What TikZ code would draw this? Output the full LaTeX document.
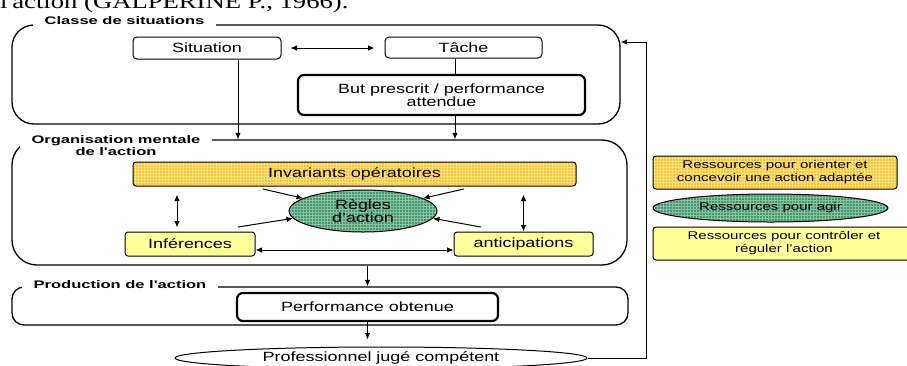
\documentclass[tikz,border=0pt]{standalone}
\usepackage{fontspec}
\setmainfont{Liberation Sans}[FakeStretch=1.34]
\newfontfamily\titlefont{Liberation Sans}[FakeStretch=1.5]
\newfontfamily\bookfont{Liberation Serif}[FakeStretch=1.3]
\usepackage{xcolor}
\usetikzlibrary{arrows.meta,patterns,shapes.geometric}
\definecolor{goldfill}{RGB}{248,196,50}
\definecolor{goldgrid}{RGB}{255,226,130}
\definecolor{greenfill}{RGB}{70,150,110}
\definecolor{greengrid}{RGB}{135,195,160}
\definecolor{palefill}{RGB}{255,255,153}

\begin{document}
\begin{tikzpicture}%
  [x=1pt,y=-1pt,font=\fontsize{13.4}{13}\selectfont,
   link/.style={-{Latex[length=6.5pt,width=5.5pt]},line width=1pt},
   dlink/.style={{Latex[length=6.5pt,width=5.5pt]}-{Latex[length=6.5pt,width=5.5pt]},line width=1pt}]
  \tikzstyle{frame node}=[rectangle,draw,line width=1.3pt,inner sep=0]
  \tikzstyle{head node}=[fill=white,inner xsep=12pt,inner ysep=2pt,align=center,
    font=\titlefont\bfseries\fontsize{11}{12}\selectfont]
  \tikzstyle{plain box}=[rectangle,draw,rounded corners=4pt,line width=1pt,inner sep=0,align=center]
  \tikzstyle{thick box}=[plain box,line width=2.2pt,rounded corners=6pt]
  \tikzstyle{gold box}=[plain box,rounded corners=3pt,preaction={fill=goldfill},
    pattern=grid,pattern color=goldgrid]
  \tikzstyle{pale box}=[plain box,rounded corners=3pt,fill=palefill]
  \tikzstyle{green ell}=[ellipse,draw,line width=1pt,inner sep=0,align=center,
    preaction={fill=greenfill},pattern=grid,pattern color=greengrid]
  \tikzstyle{legend}=[font=\fontsize{11.2}{13}\selectfont]
  \clip (0,0) rectangle (907,365);
  % text cut off above the figure
  \node (source) [anchor=base west,inner sep=0,font=\bookfont\fontsize{20.5}{22}\selectfont]
    at (0,8) {l'action (GALPERINE P., 1966).};
  % the three frames
  \node (classe) [frame node,rounded corners=22pt,minimum width=608pt,minimum height=99pt] at (316,74.5) {};
  \node (orga) [frame node,rounded corners=25pt,minimum width=615pt,minimum height=125pt] at (319.5,202.5) {};
  \node (prod) [frame node,rounded corners=12pt,minimum width=616pt,minimum height=38pt] at (320,306) {};
  \node (classehead) [head node] at (124.5,20.5) {Classe de situations};
  \node (orgahead) [head node] at (116,146) {Organisation mentale\\de l'action};
  \node (prodhead) [head node] at (120,284.5) {Production de l'action};
  % boxes
  \node (situation) [plain box,minimum width=148pt,minimum height=22pt] at (207,48) {Situation};
  \node (tache) [plain box,minimum width=157pt,minimum height=21pt] at (463.5,47.5) {Tâche};
  \node (but) [thick box,minimum width=287pt,minimum height=40pt] at (441.5,95) {But prescrit / performance\\attendue};
  \node (inv) [gold box,minimum width=443pt,minimum height=24pt] at (354.5,174) {Invariants opératoires};
  \node (regles) [green ell,minimum width=148pt,minimum height=42pt] at (363,211) {Règles\\d'action};
  \node (inf) [pale box,minimum width=130pt,minimum height=24pt] at (190,244) {Inférences};
  \node (antic) [pale box,minimum width=139pt,minimum height=24pt] at (523.5,244) {anticipations};
  \node (perf) [thick box,minimum width=261pt,minimum height=28pt] at (367.5,307) {Performance obtenue};
  \node (prof) [ellipse,draw,line width=1pt,inner sep=0,minimum width=412pt,minimum height=22pt]
    at (381,358) {Professionnel jugé compétent};
  % legend
  \node (leg1) [gold box,legend,minimum width=244pt,minimum height=33pt] at (775,172.5)
    {Ressources pour orienter et\\concevoir une action adaptée};
  \node (leg2) [green ell,legend,minimum width=235pt,minimum height=28pt] at (770.5,208) {Ressources pour agir};
  \node (leg3) [pale box,legend,minimum width=262pt,minimum height=33pt] at (784,243.5)
    {Ressources pour contrôler et\\réguler l'action};
  % arrows
  \draw[dlink,shorten <=9pt,shorten >=10pt] (situation.east) -- (situation.east -| tache.west);
  \draw[link] ([xshift=31pt]situation.south) -- ([xshift=31pt]situation.south |- orga.north);
  \draw[line width=1pt] ([xshift=-8.5pt]tache.south) -- ([xshift=-8.5pt]tache.south |- but.north);
  \draw[link] ([xshift=13.5pt]but.south) -- ([xshift=13.5pt]but.south |- orga.north);
  \draw[dlink,shorten <=8pt,shorten >=4pt] ([xshift=-177.5pt]inv.south) -- ([xshift=-177.5pt]inv.south |- inf.north);
  \draw[dlink,shorten <=8pt] (antic.north |- inv.south) -- (antic.north);
  \draw[dlink] ([yshift=-6pt]inf.east) -- ([yshift=-6pt]inf.east -| antic.west);
  \coordinate (tl) at (263,189);
  \coordinate (bl) at (238,227);
  \coordinate (tr) at (464,189);
  \coordinate (br) at (481,227);
  \draw[link] (tl) -- (regles.168);
  \draw[link] (bl) -- (regles.186);
  \draw[link] (tr) -- (regles.12);
  \draw[link] (br) -- (regles.354);
  \draw[link] (perf.north |- orga.south) -- (perf.north |- prod.north);
  \draw[link,shorten >=7pt] (perf.south) -- (perf.south |- prof.north);
  \coordinate (back) at (646,42);
  \draw[link] (prof.east) -| (back) -- ([yshift=32.5pt]classe.east);
\end{tikzpicture}
\end{document}
